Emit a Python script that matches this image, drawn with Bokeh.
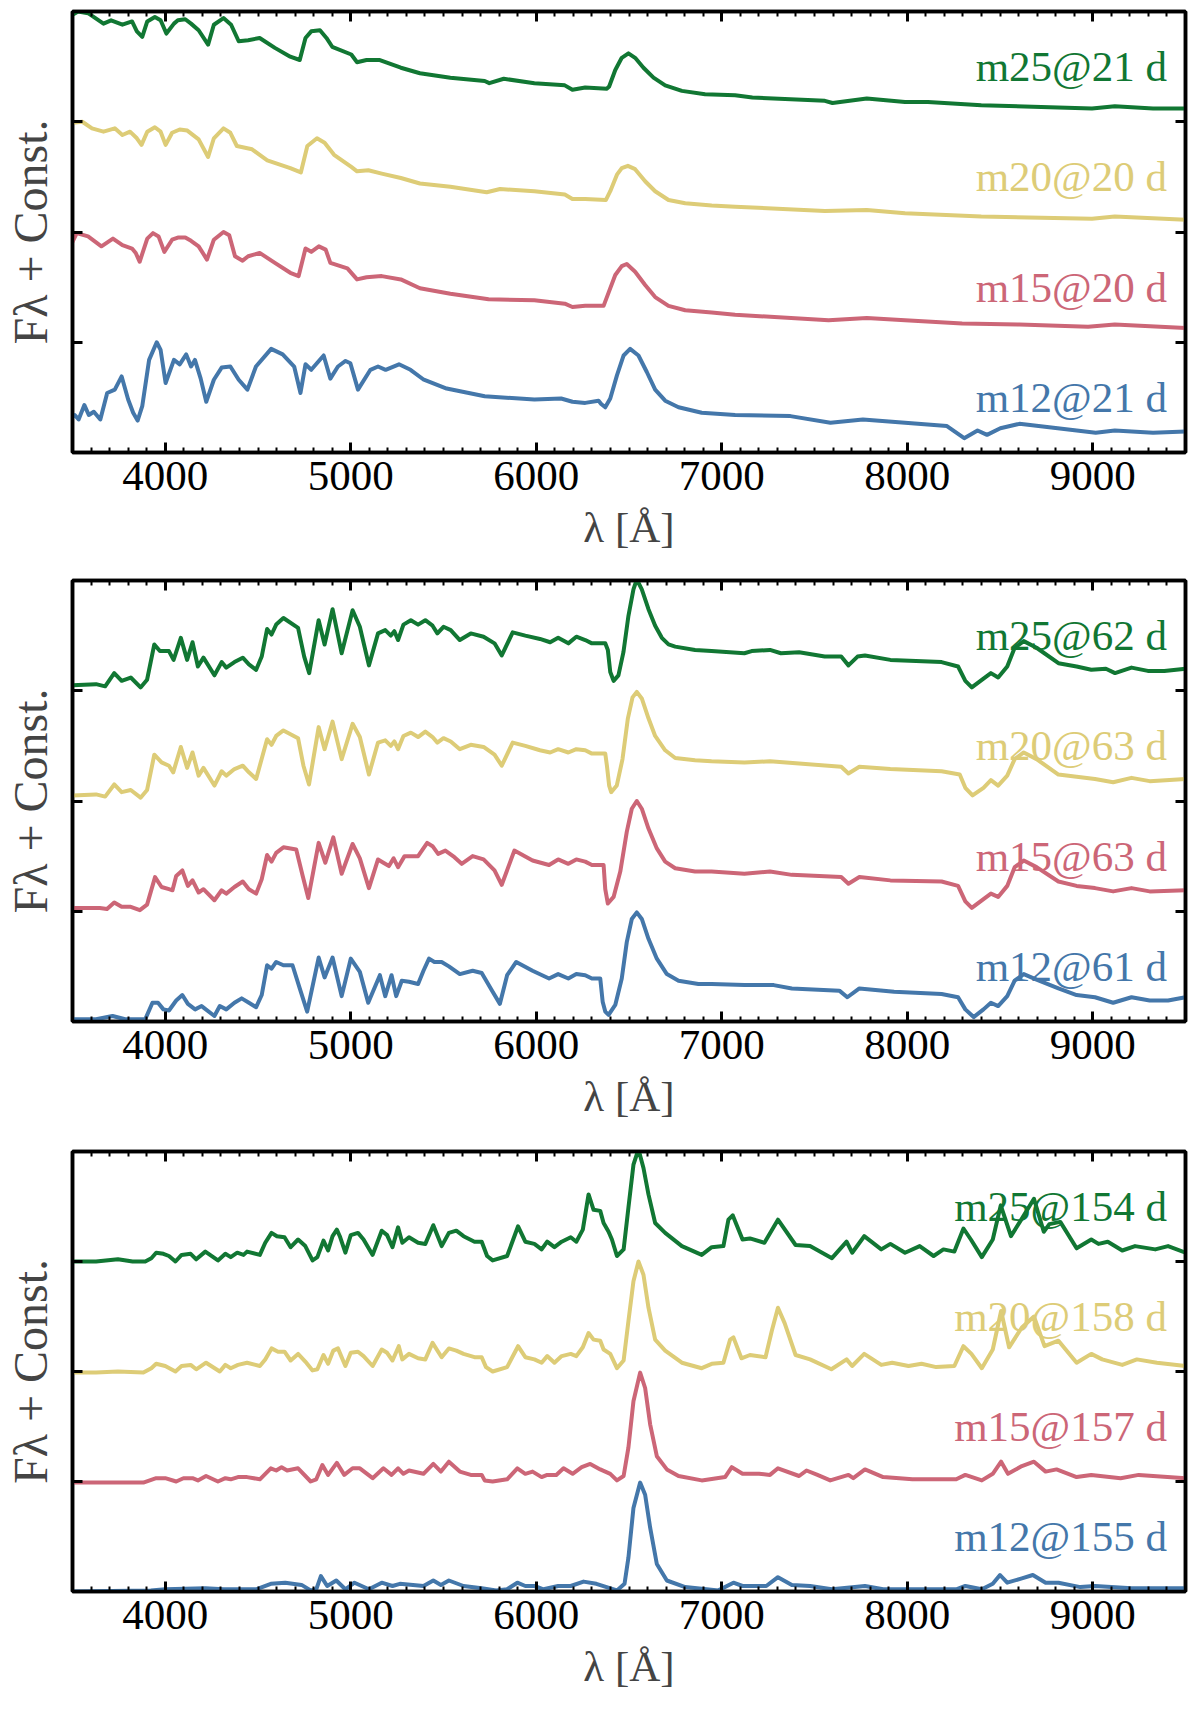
from bokeh.plotting import figure
from bokeh.layouts import column
from bokeh.models import LinearAxis, Range1d, SingleIntervalTicker, FixedTicker, ColumnDataSource
from bokeh.core.properties import value
from bokeh.embed import file_html
from bokeh.resources import INLINE

GREEN, SAND, ROSE, BLUE = "#117733", "#DDCC77", "#CC6677", "#4477AA"
FONT = "Liberation Serif"

# ---- panel 1 (~20 d) ----
p1_m25_wl = [3500, 3530, 3584, 3667, 3708, 3769, 3821, 3847, 3876, 3903, 3944, 3975, 4006, 4047, 4068, 4108, 4139, 4180, 4231, 4262, 4314, 4355, 4396, 4447, 4509, 4591, 4674, 4725, 4756, 4787, 4834, 4869, 4900, 5003, 5034, 5085, 5157, 5270, 5373, 5537, 5722, 5747, 5825, 5990, 6154, 6195, 6264, 6381, 6393, 6426, 6461, 6497, 6533, 6578, 6632, 6695, 6785, 6910, 7072, 7165, 7556, 7597, 7782, 7988, 8111, 8399, 8996, 9119, 9325, 9500]
p1_m25_fl = [3.97, 4.0, 3.985, 3.89, 3.92, 3.88, 3.91, 3.82, 3.77, 3.91, 3.95, 3.92, 3.80, 3.89, 3.92, 3.93, 3.89, 3.83, 3.70, 3.88, 3.94, 3.88, 3.73, 3.74, 3.76, 3.67, 3.59, 3.56, 3.76, 3.82, 3.83, 3.76, 3.68, 3.61, 3.54, 3.56, 3.56, 3.49, 3.44, 3.40, 3.37, 3.35, 3.39, 3.35, 3.33, 3.29, 3.31, 3.30, 3.32, 3.47, 3.58, 3.62, 3.58, 3.49, 3.40, 3.33, 3.28, 3.25, 3.24, 3.22, 3.19, 3.17, 3.21, 3.18, 3.18, 3.15, 3.12, 3.14, 3.12, 3.12]

p1_m20_wl = [3500, 3553, 3605, 3667, 3728, 3769, 3810, 3847, 3872, 3903, 3944, 3975, 4002, 4037, 4078, 4119, 4180, 4231, 4262, 4314, 4351, 4386, 4468, 4550, 4674, 4731, 4766, 4818, 4859, 4910, 5003, 5034, 5095, 5167, 5270, 5373, 5537, 5733, 5805, 5990, 6154, 6195, 6264, 6375, 6399, 6435, 6461, 6494, 6533, 6587, 6641, 6713, 6803, 6946, 7072, 7556, 7782, 7988, 8399, 8996, 9119, 9500]
p1_m20_fl = [2.99, 3.0, 2.94, 2.91, 2.94, 2.88, 2.91, 2.85, 2.79, 2.91, 2.95, 2.91, 2.79, 2.90, 2.93, 2.92, 2.84, 2.68, 2.85, 2.94, 2.90, 2.78, 2.75, 2.65, 2.58, 2.54, 2.78, 2.85, 2.81, 2.70, 2.59, 2.55, 2.56, 2.53, 2.49, 2.44, 2.41, 2.36, 2.39, 2.37, 2.34, 2.30, 2.30, 2.29, 2.37, 2.52, 2.58, 2.60, 2.57, 2.46, 2.37, 2.29, 2.26, 2.24, 2.23, 2.19, 2.20, 2.17, 2.14, 2.12, 2.14, 2.11]

p1_m15_wl = [3500, 3523, 3584, 3656, 3718, 3769, 3821, 3841, 3862, 3903, 3934, 3964, 3995, 4037, 4068, 4108, 4139, 4180, 4225, 4262, 4314, 4345, 4376, 4417, 4447, 4509, 4591, 4674, 4719, 4756, 4787, 4828, 4865, 4890, 4982, 5034, 5085, 5167, 5270, 5373, 5537, 5743, 5990, 6154, 6195, 6264, 6363, 6390, 6426, 6461, 6488, 6533, 6587, 6641, 6713, 6803, 6946, 7072, 7576, 7782, 7988, 8296, 8605, 8975, 9119, 9500]
p1_m15_fl = [1.91, 1.99, 1.96, 1.87, 1.94, 1.88, 1.85, 1.81, 1.73, 1.94, 1.99, 1.96, 1.82, 1.93, 1.95, 1.95, 1.92, 1.87, 1.75, 1.93, 2.00, 1.97, 1.78, 1.74, 1.78, 1.81, 1.72, 1.63, 1.60, 1.85, 1.82, 1.87, 1.84, 1.72, 1.67, 1.57, 1.59, 1.60, 1.57, 1.49, 1.44, 1.39, 1.38, 1.35, 1.32, 1.33, 1.33, 1.45, 1.61, 1.69, 1.71, 1.64, 1.52, 1.41, 1.33, 1.29, 1.27, 1.25, 1.20, 1.22, 1.20, 1.17, 1.16, 1.14, 1.16, 1.13]

p1_m12_wl = [3500, 3512, 3533, 3564, 3588, 3615, 3650, 3687, 3728, 3765, 3800, 3827, 3851, 3876, 3913, 3954, 3975, 4002, 4047, 4078, 4113, 4139, 4160, 4191, 4221, 4262, 4304, 4351, 4396, 4443, 4489, 4571, 4633, 4695, 4729, 4756, 4787, 4828, 4854, 4890, 4931, 4972, 4998, 5039, 5106, 5147, 5188, 5260, 5322, 5394, 5517, 5722, 5990, 6134, 6195, 6264, 6336, 6350, 6372, 6399, 6435, 6471, 6506, 6551, 6596, 6641, 6695, 6767, 6892, 7072, 7370, 7586, 7761, 7988, 8214, 8307, 8379, 8430, 8502, 8605, 8811, 9016, 9119, 9325, 9500]
p1_m12_fl = [0.33, 0.34, 0.30, 0.43, 0.34, 0.37, 0.30, 0.54, 0.57, 0.69, 0.48, 0.36, 0.29, 0.42, 0.84, 1.00, 0.93, 0.63, 0.84, 0.80, 0.89, 0.78, 0.84, 0.67, 0.46, 0.66, 0.77, 0.78, 0.66, 0.57, 0.78, 0.94, 0.89, 0.78, 0.54, 0.80, 0.75, 0.83, 0.88, 0.67, 0.78, 0.83, 0.81, 0.57, 0.75, 0.78, 0.75, 0.80, 0.75, 0.66, 0.58, 0.51, 0.48, 0.49, 0.46, 0.45, 0.47, 0.44, 0.41, 0.49, 0.70, 0.88, 0.94, 0.88, 0.73, 0.57, 0.47, 0.41, 0.36, 0.34, 0.33, 0.27, 0.30, 0.27, 0.24, 0.13, 0.20, 0.16, 0.22, 0.26, 0.22, 0.18, 0.20, 0.18, 0.19]

# ---- panel 2 (~62 d) ----
p2_m25_wl = [3500, 3627, 3676, 3725, 3765, 3814, 3867, 3902, 3941, 3971, 4020, 4045, 4084, 4118, 4147, 4176, 4206, 4265, 4304, 4329, 4373, 4418, 4451, 4490, 4520, 4549, 4573, 4598, 4637, 4716, 4749, 4776, 4827, 4859, 4902, 4951, 5010, 5049, 5098, 5147, 5186, 5216, 5235, 5255, 5284, 5324, 5363, 5402, 5441, 5467, 5500, 5539, 5588, 5647, 5716, 5775, 5814, 5873, 5941, 6020, 6075, 6118, 6173, 6216, 6264, 6300, 6372, 6386, 6399, 6417, 6443, 6470, 6497, 6524, 6542, 6569, 6605, 6641, 6677, 6713, 6749, 6856, 6945, 7122, 7161, 7260, 7319, 7417, 7555, 7644, 7683, 7732, 7772, 7909, 8185, 8274, 8313, 8348, 8411, 8451, 8490, 8539, 8579, 8628, 8697, 8815, 8913, 8992, 9071, 9120, 9209, 9297, 9386, 9500]
p2_m25_fl = [3.05, 3.06, 3.04, 3.16, 3.09, 3.12, 3.03, 3.10, 3.42, 3.36, 3.36, 3.28, 3.48, 3.28, 3.44, 3.22, 3.30, 3.14, 3.26, 3.21, 3.26, 3.30, 3.24, 3.19, 3.31, 3.56, 3.51, 3.60, 3.66, 3.57, 3.31, 3.16, 3.64, 3.42, 3.74, 3.34, 3.73, 3.58, 3.23, 3.52, 3.55, 3.50, 3.54, 3.46, 3.60, 3.64, 3.60, 3.64, 3.59, 3.52, 3.58, 3.55, 3.46, 3.52, 3.49, 3.43, 3.32, 3.53, 3.50, 3.47, 3.44, 3.48, 3.43, 3.49, 3.46, 3.43, 3.43, 3.37, 3.17, 3.09, 3.14, 3.35, 3.68, 3.92, 4.01, 3.92, 3.74, 3.59, 3.48, 3.42, 3.40, 3.37, 3.36, 3.34, 3.36, 3.37, 3.34, 3.35, 3.31, 3.31, 3.23, 3.31, 3.32, 3.28, 3.26, 3.22, 3.09, 3.03, 3.11, 3.16, 3.12, 3.22, 3.39, 3.45, 3.39, 3.25, 3.22, 3.19, 3.20, 3.16, 3.21, 3.18, 3.18, 3.20]

p2_m20_wl = [3500, 3627, 3676, 3725, 3765, 3814, 3867, 3902, 3941, 3980, 4020, 4043, 4084, 4118, 4147, 4180, 4206, 4265, 4304, 4329, 4373, 4418, 4451, 4490, 4549, 4573, 4598, 4637, 4716, 4745, 4775, 4827, 4859, 4902, 4951, 5010, 5049, 5098, 5147, 5186, 5216, 5235, 5255, 5284, 5324, 5363, 5402, 5441, 5467, 5500, 5539, 5588, 5647, 5716, 5775, 5814, 5873, 5941, 6020, 6075, 6118, 6173, 6216, 6264, 6300, 6372, 6381, 6393, 6404, 6434, 6465, 6494, 6519, 6542, 6569, 6605, 6641, 6695, 6749, 6856, 6945, 7122, 7260, 7417, 7644, 7683, 7742, 7909, 8185, 8283, 8313, 8352, 8411, 8451, 8490, 8539, 8579, 8628, 8697, 8815, 8913, 9012, 9110, 9209, 9307, 9500]
p2_m20_fl = [2.05, 2.06, 2.04, 2.15, 2.08, 2.10, 2.03, 2.10, 2.42, 2.35, 2.32, 2.26, 2.49, 2.30, 2.44, 2.23, 2.30, 2.14, 2.27, 2.23, 2.29, 2.32, 2.26, 2.20, 2.56, 2.51, 2.59, 2.64, 2.57, 2.32, 2.15, 2.67, 2.47, 2.72, 2.38, 2.70, 2.58, 2.24, 2.53, 2.55, 2.50, 2.54, 2.47, 2.59, 2.62, 2.58, 2.63, 2.58, 2.53, 2.57, 2.54, 2.47, 2.51, 2.49, 2.42, 2.32, 2.53, 2.50, 2.46, 2.44, 2.47, 2.44, 2.47, 2.46, 2.43, 2.43, 2.32, 2.14, 2.08, 2.14, 2.38, 2.75, 2.94, 2.99, 2.93, 2.75, 2.59, 2.46, 2.39, 2.37, 2.36, 2.35, 2.36, 2.34, 2.31, 2.25, 2.31, 2.29, 2.27, 2.24, 2.12, 2.05, 2.12, 2.19, 2.14, 2.23, 2.38, 2.44, 2.38, 2.24, 2.22, 2.20, 2.17, 2.21, 2.18, 2.20]

p2_m15_wl = [3500, 3647, 3686, 3725, 3765, 3814, 3863, 3902, 3945, 3980, 4020, 4039, 4059, 4092, 4122, 4147, 4180, 4206, 4265, 4304, 4329, 4373, 4418, 4451, 4490, 4520, 4549, 4573, 4598, 4637, 4706, 4741, 4771, 4827, 4863, 4906, 4951, 5010, 5049, 5098, 5147, 5176, 5206, 5231, 5255, 5290, 5363, 5412, 5441, 5471, 5510, 5559, 5598, 5657, 5716, 5775, 5814, 5882, 5980, 6069, 6118, 6173, 6216, 6264, 6300, 6363, 6372, 6386, 6417, 6453, 6488, 6515, 6542, 6569, 6605, 6650, 6695, 6749, 6856, 6945, 7122, 7260, 7378, 7644, 7683, 7742, 7909, 8185, 8274, 8313, 8348, 8411, 8451, 8490, 8539, 8579, 8628, 8697, 8815, 8913, 9012, 9110, 9209, 9307, 9500]
p2_m15_fl = [1.03, 1.03, 1.02, 1.08, 1.04, 1.04, 1.01, 1.06, 1.31, 1.22, 1.20, 1.19, 1.32, 1.37, 1.23, 1.28, 1.17, 1.20, 1.10, 1.19, 1.16, 1.22, 1.27, 1.20, 1.16, 1.29, 1.51, 1.45, 1.53, 1.58, 1.56, 1.32, 1.12, 1.62, 1.44, 1.67, 1.34, 1.61, 1.48, 1.21, 1.47, 1.44, 1.41, 1.48, 1.40, 1.50, 1.50, 1.62, 1.59, 1.52, 1.55, 1.49, 1.43, 1.50, 1.47, 1.37, 1.24, 1.55, 1.46, 1.42, 1.47, 1.43, 1.47, 1.45, 1.42, 1.42, 1.20, 1.07, 1.13, 1.36, 1.72, 1.93, 2.00, 1.93, 1.75, 1.57, 1.45, 1.39, 1.36, 1.36, 1.34, 1.36, 1.33, 1.31, 1.25, 1.31, 1.28, 1.27, 1.23, 1.09, 1.03, 1.11, 1.16, 1.13, 1.23, 1.40, 1.46, 1.40, 1.27, 1.23, 1.21, 1.18, 1.21, 1.18, 1.19]

p2_m12_wl = [3500, 3627, 3716, 3784, 3892, 3931, 3961, 3990, 4020, 4059, 4092, 4122, 4161, 4196, 4265, 4294, 4329, 4373, 4412, 4451, 4490, 4520, 4549, 4573, 4598, 4637, 4686, 4725, 4765, 4827, 4859, 4902, 4951, 5000, 5049, 5094, 5157, 5186, 5220, 5245, 5275, 5314, 5363, 5392, 5422, 5451, 5490, 5529, 5588, 5657, 5706, 5765, 5804, 5843, 5892, 5980, 6069, 6118, 6173, 6216, 6264, 6300, 6345, 6358, 6372, 6390, 6426, 6461, 6488, 6515, 6542, 6569, 6605, 6650, 6704, 6767, 6874, 6945, 7122, 7280, 7378, 7634, 7677, 7742, 7929, 8185, 8274, 8313, 8358, 8411, 8451, 8490, 8539, 8579, 8628, 8697, 8815, 8913, 9012, 9110, 9209, 9307, 9406, 9500]
p2_m12_fl = [0.02, 0.02, 0.05, 0.02, 0.02, 0.17, 0.17, 0.11, 0.10, 0.19, 0.24, 0.16, 0.11, 0.14, 0.05, 0.14, 0.11, 0.17, 0.21, 0.17, 0.13, 0.24, 0.51, 0.48, 0.54, 0.51, 0.51, 0.30, 0.09, 0.58, 0.40, 0.58, 0.23, 0.57, 0.45, 0.17, 0.42, 0.23, 0.42, 0.23, 0.37, 0.36, 0.34, 0.46, 0.57, 0.54, 0.54, 0.50, 0.43, 0.46, 0.44, 0.27, 0.16, 0.42, 0.54, 0.46, 0.39, 0.43, 0.39, 0.43, 0.42, 0.39, 0.39, 0.18, 0.09, 0.06, 0.15, 0.39, 0.72, 0.93, 0.99, 0.93, 0.75, 0.57, 0.43, 0.37, 0.34, 0.34, 0.33, 0.33, 0.30, 0.28, 0.22, 0.30, 0.27, 0.25, 0.22, 0.11, 0.04, 0.11, 0.17, 0.14, 0.23, 0.37, 0.43, 0.38, 0.30, 0.24, 0.22, 0.17, 0.22, 0.19, 0.19, 0.22]

# ---- panel 3 (~155 d) ----
p3_m25_wl = [3500, 3627, 3745, 3824, 3892, 3925, 3951, 3990, 4020, 4055, 4088, 4137, 4167, 4216, 4284, 4324, 4353, 4388, 4422, 4441, 4510, 4539, 4573, 4602, 4643, 4676, 4716, 4755, 4794, 4820, 4853, 4878, 4902, 4925, 4941, 4971, 5000, 5039, 5069, 5118, 5167, 5196, 5225, 5255, 5278, 5314, 5363, 5402, 5445, 5490, 5529, 5569, 5608, 5667, 5706, 5735, 5765, 5843, 5902, 5941, 5990, 6029, 6059, 6098, 6137, 6186, 6216, 6251, 6282, 6309, 6345, 6363, 6390, 6408, 6435, 6471, 6497, 6524, 6551, 6578, 6605, 6641, 6695, 6785, 6892, 6946, 7009, 7036, 7059, 7112, 7152, 7230, 7303, 7398, 7476, 7594, 7673, 7703, 7768, 7860, 7909, 7988, 8067, 8142, 8195, 8254, 8303, 8343, 8402, 8461, 8504, 8559, 8618, 8683, 8736, 8766, 8825, 8913, 8992, 9031, 9081, 9159, 9228, 9337, 9406, 9500]
p3_m25_fl = [3.00, 3.00, 3.02, 3.00, 3.00, 3.03, 3.08, 3.07, 3.05, 3.00, 3.06, 3.07, 3.02, 3.09, 3.01, 3.07, 3.04, 3.08, 3.06, 3.09, 3.06, 3.17, 3.26, 3.23, 3.22, 3.13, 3.20, 3.14, 3.01, 3.04, 3.19, 3.10, 3.23, 3.29, 3.23, 3.08, 3.24, 3.26, 3.20, 3.06, 3.28, 3.24, 3.13, 3.31, 3.17, 3.22, 3.17, 3.16, 3.33, 3.14, 3.26, 3.28, 3.23, 3.18, 3.18, 3.05, 3.01, 3.05, 3.32, 3.18, 3.16, 3.11, 3.18, 3.13, 3.18, 3.22, 3.18, 3.29, 3.61, 3.47, 3.46, 3.35, 3.27, 3.20, 3.05, 3.11, 3.49, 3.88, 4.02, 3.85, 3.61, 3.35, 3.26, 3.14, 3.06, 3.13, 3.14, 3.38, 3.42, 3.20, 3.21, 3.17, 3.38, 3.15, 3.14, 3.03, 3.18, 3.08, 3.23, 3.11, 3.16, 3.08, 3.14, 3.05, 3.11, 3.09, 3.30, 3.20, 3.04, 3.20, 3.51, 3.23, 3.39, 3.57, 3.27, 3.34, 3.36, 3.12, 3.20, 3.16, 3.18, 3.10, 3.14, 3.11, 3.14, 3.08]

p3_m20_wl = [3500, 3627, 3745, 3882, 3925, 3951, 4000, 4055, 4088, 4137, 4167, 4220, 4294, 4324, 4353, 4392, 4441, 4510, 4539, 4573, 4608, 4643, 4676, 4716, 4755, 4794, 4820, 4853, 4878, 4906, 4931, 4971, 5000, 5039, 5069, 5118, 5167, 5196, 5225, 5259, 5278, 5314, 5363, 5402, 5441, 5490, 5529, 5569, 5608, 5667, 5706, 5729, 5765, 5843, 5902, 5941, 5990, 6029, 6059, 6098, 6137, 6186, 6216, 6251, 6282, 6309, 6345, 6363, 6399, 6435, 6471, 6497, 6524, 6551, 6578, 6605, 6641, 6695, 6785, 6892, 6946, 7009, 7045, 7063, 7106, 7152, 7236, 7270, 7303, 7339, 7398, 7476, 7591, 7673, 7703, 7768, 7860, 7919, 8007, 8077, 8156, 8254, 8303, 8346, 8402, 8461, 8506, 8549, 8618, 8683, 8740, 8815, 8913, 8992, 9051, 9159, 9238, 9346, 9500]
p3_m20_fl = [1.99, 1.99, 2.00, 1.99, 2.03, 2.07, 2.05, 2.00, 2.05, 2.06, 2.02, 2.08, 2.00, 2.06, 2.03, 2.06, 2.08, 2.05, 2.11, 2.21, 2.18, 2.18, 2.10, 2.16, 2.09, 2.01, 2.02, 2.15, 2.07, 2.19, 2.21, 2.05, 2.17, 2.18, 2.14, 2.05, 2.20, 2.17, 2.10, 2.23, 2.11, 2.16, 2.12, 2.11, 2.26, 2.13, 2.21, 2.19, 2.16, 2.13, 2.13, 2.04, 2.00, 2.04, 2.23, 2.13, 2.11, 2.08, 2.14, 2.08, 2.14, 2.16, 2.14, 2.22, 2.35, 2.29, 2.28, 2.20, 2.16, 2.03, 2.10, 2.46, 2.82, 3.00, 2.88, 2.58, 2.29, 2.19, 2.08, 2.03, 2.07, 2.08, 2.29, 2.31, 2.12, 2.15, 2.13, 2.37, 2.58, 2.44, 2.15, 2.11, 2.02, 2.11, 2.05, 2.16, 2.06, 2.08, 2.05, 2.07, 2.04, 2.05, 2.23, 2.16, 2.03, 2.20, 2.55, 2.22, 2.40, 2.50, 2.23, 2.28, 2.08, 2.16, 2.11, 2.06, 2.11, 2.08, 2.05]

p3_m15_wl = [3500, 3882, 3951, 4000, 4059, 4098, 4147, 4176, 4220, 4284, 4324, 4353, 4392, 4441, 4510, 4569, 4598, 4627, 4657, 4716, 4784, 4814, 4847, 4878, 4925, 4965, 5010, 5049, 5118, 5176, 5220, 5255, 5284, 5314, 5392, 5445, 5486, 5529, 5588, 5647, 5706, 5722, 5765, 5843, 5898, 5941, 5980, 6029, 6059, 6108, 6147, 6196, 6245, 6291, 6345, 6399, 6435, 6471, 6497, 6524, 6560, 6587, 6614, 6650, 6704, 6767, 6892, 7018, 7054, 7112, 7201, 7260, 7303, 7417, 7457, 7516, 7585, 7683, 7709, 7772, 7870, 8028, 8264, 8313, 8402, 8461, 8506, 8543, 8618, 8683, 8746, 8805, 8913, 8992, 9150, 9248, 9500]
p3_m15_fl = [0.99, 0.99, 1.03, 1.03, 1.00, 1.03, 1.03, 1.01, 1.05, 1.00, 1.03, 1.02, 1.04, 1.04, 1.02, 1.12, 1.10, 1.13, 1.10, 1.12, 1.00, 1.02, 1.15, 1.06, 1.17, 1.06, 1.12, 1.12, 1.03, 1.12, 1.06, 1.12, 1.07, 1.10, 1.07, 1.16, 1.09, 1.18, 1.09, 1.06, 1.06, 1.01, 1.00, 1.02, 1.12, 1.07, 1.09, 1.04, 1.06, 1.06, 1.12, 1.07, 1.13, 1.16, 1.11, 1.07, 1.01, 1.05, 1.31, 1.73, 1.99, 1.85, 1.52, 1.23, 1.11, 1.05, 1.01, 1.04, 1.13, 1.07, 1.07, 1.06, 1.12, 1.05, 1.10, 1.06, 1.01, 1.06, 1.03, 1.11, 1.04, 1.02, 1.02, 1.06, 1.01, 1.07, 1.18, 1.07, 1.14, 1.18, 1.09, 1.11, 1.04, 1.06, 1.03, 1.06, 1.03]

p3_m12_wl = [3500, 3922, 4000, 4216, 4314, 4490, 4569, 4647, 4735, 4784, 4814, 4839, 4873, 4922, 4971, 5020, 5098, 5167, 5225, 5265, 5392, 5445, 5486, 5529, 5608, 5706, 5784, 5843, 5898, 5941, 5990, 6039, 6118, 6186, 6255, 6324, 6435, 6476, 6497, 6524, 6560, 6587, 6614, 6650, 6704, 6803, 6982, 7063, 7112, 7240, 7303, 7378, 7476, 7594, 7772, 7870, 8264, 8313, 8402, 8461, 8500, 8539, 8618, 8677, 8746, 8815, 8933, 9012, 9209, 9500]
p3_m12_fl = [0.00, 0.01, 0.02, 0.03, 0.02, 0.02, 0.07, 0.08, 0.06, 0.01, 0.02, 0.14, 0.05, 0.10, 0.02, 0.08, 0.02, 0.08, 0.05, 0.07, 0.05, 0.10, 0.06, 0.10, 0.05, 0.03, 0.01, 0.02, 0.08, 0.05, 0.05, 0.02, 0.05, 0.05, 0.09, 0.07, 0.01, 0.07, 0.31, 0.76, 0.99, 0.88, 0.58, 0.25, 0.10, 0.04, 0.01, 0.08, 0.05, 0.05, 0.13, 0.06, 0.05, 0.02, 0.05, 0.02, 0.02, 0.05, 0.02, 0.07, 0.15, 0.08, 0.12, 0.15, 0.08, 0.08, 0.04, 0.05, 0.03, 0.03]

p1_labels = ["m25@21 d", "m20@20 d", "m15@20 d", "m12@21 d"]
p2_labels = ["m25@62 d", "m20@63 d", "m15@63 d", "m12@61 d"]
p3_labels = ["m25@154 d", "m20@158 d", "m15@157 d", "m12@155 d"]

colors = [GREEN, SAND, ROSE, BLUE]


def style_axis(ax, ticker, labels=True):
    ax.ticker = ticker
    ax.axis_line_width = 3.5
    ax.axis_line_color = "black"
    ax.major_tick_in = 10
    ax.major_tick_out = 0
    ax.minor_tick_in = 5
    ax.minor_tick_out = 0
    ax.major_tick_line_width = 3
    ax.minor_tick_line_width = 2
    ax.major_tick_line_color = "black"
    ax.minor_tick_line_color = "black"
    if labels:
        ax.major_label_text_font = FONT
        ax.major_label_text_font_size = "43px"
        ax.major_label_text_color = "black"
        ax.major_label_standoff = 9
    else:
        ax.major_label_text_color = None
        ax.major_label_text_font_size = "1px"
        ax.major_label_standoff = 0


def panel(spectra, labels, height, top, bottom):
    p = figure(width=1190, height=height, x_range=Range1d(3500, 9500), y_range=Range1d(0, 4),
               output_backend="svg", toolbar_location=None,
               min_border_left=71, min_border_right=5, min_border_top=top, min_border_bottom=bottom)
    p.grid.visible = False
    p.outline_line_color = "black"
    p.outline_line_width = 3.5

    style_axis(p.xaxis[0], SingleIntervalTicker(interval=1000, num_minor_ticks=10))
    p.xaxis[0].axis_label = "λ [Å]"
    p.xaxis[0].axis_label_text_font = FONT
    p.xaxis[0].axis_label_text_font_size = "43px"
    p.xaxis[0].axis_label_text_font_style = "normal"
    p.xaxis[0].axis_label_standoff = 11

    style_axis(p.yaxis[0], FixedTicker(ticks=[1, 2, 3], minor_ticks=[]), labels=False)
    p.yaxis[0].axis_label = "Fλ + Const."
    p.yaxis[0].axis_label_text_font = FONT
    p.yaxis[0].axis_label_text_font_size = "48px"
    p.yaxis[0].axis_label_text_font_style = "normal"
    p.yaxis[0].axis_label_standoff = 16

    top_ax = LinearAxis()
    style_axis(top_ax, SingleIntervalTicker(interval=1000, num_minor_ticks=10), labels=False)
    p.add_layout(top_ax, "above")
    right_ax = LinearAxis()
    style_axis(right_ax, FixedTicker(ticks=[1, 2, 3], minor_ticks=[]), labels=False)
    p.add_layout(right_ax, "right")

    offsets = [3, 2, 1, 0]
    src = ColumnDataSource(dict(x=[9400] * 4, y=[o + 0.5 for o in offsets], text=labels, color=colors))
    p.text(x="x", y="y", text="text", source=src, text_color="color",
           text_font=value(FONT), text_font_size="43px",
           text_align="right", text_baseline="alphabetic")

    for (wl, fl), c in zip(spectra, colors):
        p.line(wl, fl, line_color=c, line_width=4, line_join="round", line_cap="round")
    return p


f1 = panel([(p1_m25_wl, p1_m25_fl), (p1_m20_wl, p1_m20_fl), (p1_m15_wl, p1_m15_fl), (p1_m12_wl, p1_m12_fl)],
           p1_labels, 576, 11, 124)
f2 = panel([(p2_m25_wl, p2_m25_fl), (p2_m20_wl, p2_m20_fl), (p2_m15_wl, p2_m15_fl), (p2_m12_wl, p2_m12_fl)],
           p2_labels, 571, 4, 126)
f3 = panel([(p3_m25_wl, p3_m25_fl), (p3_m20_wl, p3_m20_fl), (p3_m15_wl, p3_m15_fl), (p3_m12_wl, p3_m12_fl)],
           p3_labels, 545, 4, 100)

layout = column(f1, f2, f3)
open("out.html", "w").write(file_html(layout, INLINE))
